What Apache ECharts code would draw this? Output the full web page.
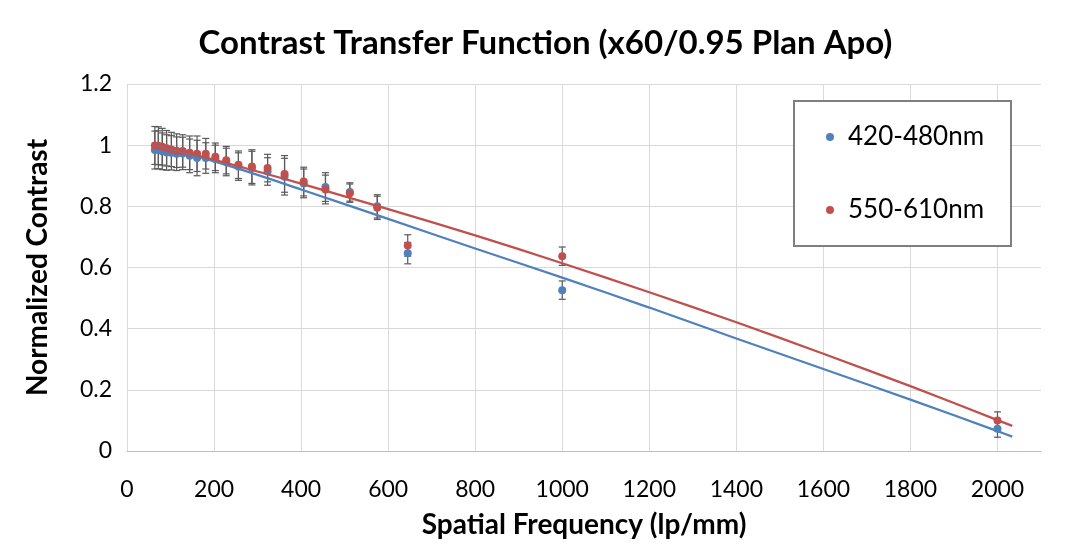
<!DOCTYPE html>
<html>
<head>
<meta charset="utf-8">
<script src="https://cdn.jsdelivr.net/npm/echarts@6/dist/echarts.min.js"></script>
<style>
  html, body { margin: 0; padding: 0; background: #ffffff; }
  #chart { width: 1091px; height: 544px; }
</style>
</head>
<body>
<div id="chart"></div>
<script>
// ---- data ----
const freqs    = [64, 72, 81, 91, 102, 114, 128, 144, 161, 181, 203, 228, 256, 287, 323, 362, 406, 456, 512, 575, 645, 1000, 2000];
const blueVals = [0.984, 0.985, 0.980, 0.976, 0.975, 0.972, 0.973, 0.965, 0.958, 0.958, 0.955, 0.945, 0.930, 0.925, 0.914, 0.897, 0.875, 0.863, 0.847, 0.800, 0.647, 0.526, 0.073];
const redVals  = [0.999, 0.998, 0.995, 0.990, 0.986, 0.982, 0.981, 0.975, 0.972, 0.972, 0.962, 0.951, 0.936, 0.930, 0.925, 0.906, 0.881, 0.855, 0.843, 0.795, 0.672, 0.637, 0.100];
const blueErr  = [0.062, 0.062, 0.060, 0.058, 0.056, 0.055, 0.053, 0.055, 0.058, 0.050, 0.045, 0.045, 0.045, 0.055, 0.045, 0.060, 0.047, 0.047, 0.030, 0.038, 0.035, 0.030, 0.028];
const redErr   = [0.062, 0.062, 0.060, 0.058, 0.056, 0.055, 0.053, 0.055, 0.058, 0.050, 0.045, 0.045, 0.045, 0.055, 0.045, 0.060, 0.047, 0.047, 0.030, 0.038, 0.035, 0.030, 0.028];

// trend lines
const trendX    = [60, 150, 300, 400, 600, 800, 1000, 1200, 1400, 1600, 1800, 2000, 2034];
const blueTrend = [1.003, 0.968, 0.903, 0.855, 0.759, 0.662, 0.567, 0.469, 0.368, 0.268, 0.168, 0.065, 0.047];
const redTrend  = [1.005, 0.971, 0.914, 0.874, 0.791, 0.705, 0.614, 0.519, 0.421, 0.318, 0.212, 0.101, 0.082];

const seriesNames = ['420-480nm', '550-610nm'];
const xTicks = { min: 0, max: 2100, interval: 200 };
const yTicks = { min: 0, max: 1.2, interval: 0.2 };

const BLUE = '#4F81BD';
const RED = '#C0504D';
const FONT = 'Lato';

function errRender(params, api) {
  const x = api.value(0);
  const top = api.coord([x, api.value(2)]);
  const bot = api.coord([x, api.value(1)]);
  const w = 3.5;
  const st = { stroke: '#595959', lineWidth: 1.2 };
  return {
    type: 'group',
    children: [
      { type: 'line', shape: { x1: top[0], y1: top[1], x2: bot[0], y2: bot[1] }, style: st },
      { type: 'line', shape: { x1: top[0] - w, y1: top[1], x2: top[0] + w, y2: top[1] }, style: st },
      { type: 'line', shape: { x1: bot[0] - w, y1: bot[1], x2: bot[0] + w, y2: bot[1] }, style: st }
    ]
  };
}

const zip = (xs, ys) => xs.map((x, i) => [x, ys[i]]);
const errData = (vals, errs) => freqs.map((f, i) => [f, vals[i] - errs[i], vals[i] + errs[i]]);

const chart = echarts.init(document.getElementById('chart'), null, { renderer: 'canvas' });
chart.setOption({
  animation: false,
  backgroundColor: '#ffffff',
  textStyle: { fontFamily: FONT },
  title: {
    text: 'Contrast Transfer Function (x60/0.95 Plan Apo)',
    left: 'center',
    top: 22,
    textStyle: { fontFamily: FONT, fontSize: 33, fontWeight: 'bold', color: '#000' }
  },
  graphic: [{
    type: 'rect', z: 3,
    shape: { x: 794, y: 101, width: 217, height: 145 },
    style: { fill: '#ffffff', stroke: '#7f7f7f', lineWidth: 2 }
  }],
  legend: {
    data: seriesNames,
    orient: 'vertical',
    left: 826,
    top: 122,
    padding: 0,
    itemGap: 43,
    icon: 'circle',
    itemWidth: 8,
    itemHeight: 8,
    z: 5,
    textStyle: { fontFamily: FONT, fontSize: 26, color: '#000', lineHeight: 30, padding: [0, 0, 0, 9] }
  },
  grid: { left: 127, top: 84, width: 914, height: 369.5, containLabel: false },
  xAxis: {
    type: 'value',
    min: xTicks.min, max: xTicks.max, interval: xTicks.interval,
    name: 'Spatial Frequency (lp/mm)',
    nameLocation: 'middle',
    nameGap: 60,
    nameTextStyle: { fontFamily: FONT, fontSize: 28, fontWeight: 'bold', color: '#000' },
    axisLine: { show: true, lineStyle: { color: '#bfbfbf', width: 1 } },
    axisTick: { show: false },
    axisLabel: { fontFamily: FONT, fontSize: 23, color: '#000', margin: 27, showMaxLabel: false,
                 formatter: v => String(v) },
    splitLine: { show: true, showMaxLine: false, lineStyle: { color: '#d9d9d9', width: 1 } }
  },
  yAxis: {
    type: 'value',
    min: yTicks.min, max: yTicks.max, interval: yTicks.interval,
    name: 'Normalized Contrast',
    nameLocation: 'middle',
    nameGap: 75,
    nameTextStyle: { fontFamily: FONT, fontSize: 28, fontWeight: 'bold', color: '#000' },
    axisLine: { show: false },
    axisTick: { show: false },
    axisLabel: { fontFamily: FONT, fontSize: 23, color: '#000', margin: 15 },
    splitLine: { show: true, lineStyle: { color: '#d9d9d9', width: 1 } }
  },
  series: [
    {
      name: 'err-blue', type: 'custom', renderItem: errRender, z: 2,
      data: errData(blueVals, blueErr), encode: { x: 0, y: [1, 2] }, silent: true
    },
    {
      name: 'err-red', type: 'custom', renderItem: errRender, z: 2,
      data: errData(redVals, redErr), encode: { x: 0, y: [1, 2] }, silent: true
    },
    {
      name: seriesNames[0], type: 'scatter', symbol: 'circle', symbolSize: 8, z: 3,
      itemStyle: { color: BLUE, opacity: 1 },
      data: zip(freqs, blueVals)
    },
    {
      name: seriesNames[1], type: 'scatter', symbol: 'circle', symbolSize: 8, z: 3,
      itemStyle: { color: RED, opacity: 1 },
      data: zip(freqs, redVals)
    },
    {
      name: 'trend-blue', type: 'line', showSymbol: false, smooth: 0.3, z: 4,
      lineStyle: { color: BLUE, width: 2.25 },
      data: zip(trendX, blueTrend)
    },
    {
      name: 'trend-red', type: 'line', showSymbol: false, smooth: 0.3, z: 4,
      lineStyle: { color: RED, width: 2.25 },
      data: zip(trendX, redTrend)
    }
  ]
});
</script>
</body>
</html>
